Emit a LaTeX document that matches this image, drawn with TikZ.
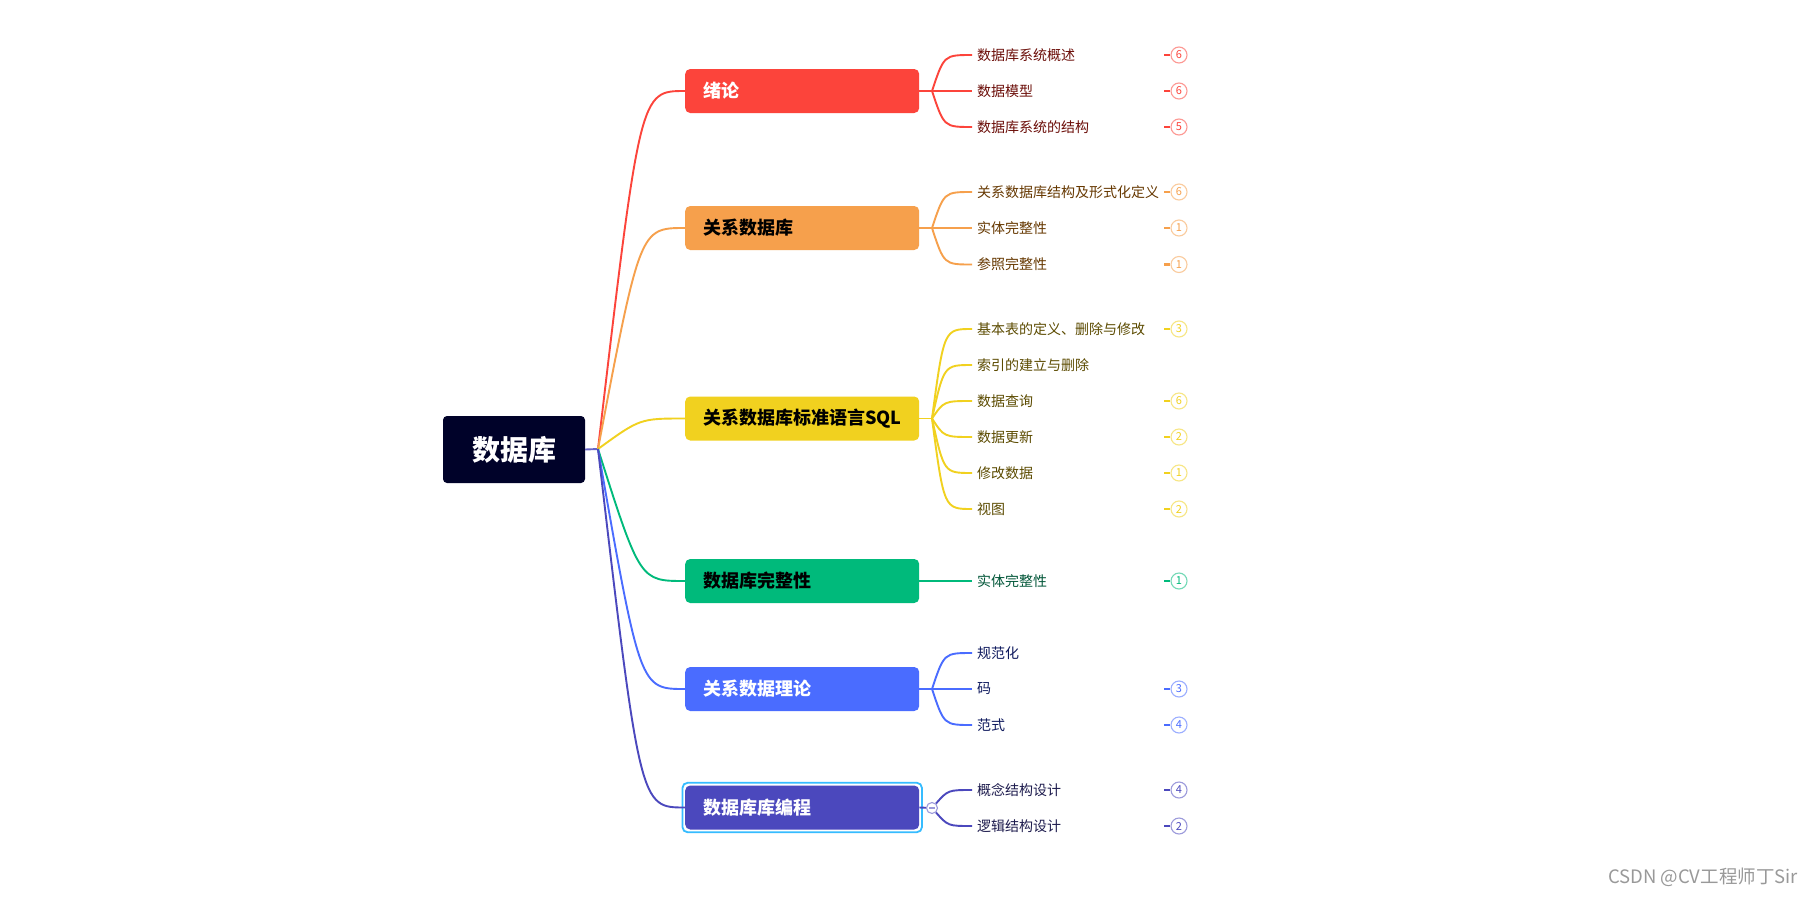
\documentclass[tikz,border=0pt]{standalone}
\usepackage{fontspec}
\setmainfont{Noto Sans CJK SC}
\usepackage{xcolor}
\usepackage{tikz}
\usetikzlibrary{calc,fit}
\definecolor{mmrootc}{HTML}{000229}
\definecolor{mmred}{HTML}{FC443B}
\definecolor{mmorange}{HTML}{F6A04C}
\definecolor{mmyellow}{HTML}{F1D11F}
\definecolor{mmgreen}{HTML}{00BA7B}
\definecolor{mmblue}{HTML}{4A6CFF}
\definecolor{mmpurple}{HTML}{4B48BD}
\definecolor{mmredtxt}{HTML}{6B0D08}
\definecolor{mmorangetxt}{HTML}{663800}
\definecolor{mmyellowtxt}{HTML}{5C4B00}
\definecolor{mmgreentxt}{HTML}{005638}
\definecolor{mmbluetxt}{HTML}{0F1A5E}
\definecolor{mmpurpletxt}{HTML}{1E1C4E}
\definecolor{mmselectc}{HTML}{36BCFF}
\tikzset{
mmroot/.style={rectangle,rounded corners=4pt,fill=mmrootc,text=white,minimum width=142pt,minimum height=67pt,inner sep=0pt,font=\fontsize{28}{30}\selectfont\bfseries},
mmtopic/.style={rectangle,rounded corners=5pt,anchor=west,align=left,text width=198pt,inner xsep=18pt,inner ysep=0pt,minimum height=44pt,font=\fontsize{18}{20}\selectfont\bfseries},
mmsub/.style={anchor=west,inner xsep=5pt,inner ysep=1pt,font=\fontsize{14}{16}\selectfont},
mmbadge/.style={circle,draw=#1!55,line width=1.1pt,text=#1,inner sep=0pt,minimum size=16pt,font=\fontsize{11}{11}\selectfont},
mmtick/.style={line width=2.4pt},
mmline/.style={line width=1.9pt},
mmcollapse/.style={circle,draw=mmpurple!55,fill=white,line width=1.1pt,inner sep=0pt,minimum size=11pt,
  path picture={\draw[mmpurple!55,line width=1.1pt] ([xshift=-3pt]path picture bounding box.center)--([xshift=3pt]path picture bounding box.center);}},
mmselect/.style={rectangle,rounded corners=5pt,draw=mmselectc,line width=1.8pt,inner sep=2.5pt},
mmmark/.style={font=\fontsize{18.5}{20}\selectfont,text=black!40,anchor=east,inner sep=0pt}
}
\begin{document}
\begin{tikzpicture}[x=1pt,y=-1pt]
\useasboundingbox[fill=white] (0,0) rectangle (1815,905);
% root and main topics
\node[mmroot] (root) at (514,449.5) {数据库};
\coordinate (hub) at (598,449);
\node[mmtopic,fill=mmred,text=white] (t1) at (685,91) {绪论};
\node[mmtopic,fill=mmorange,text=black] (t2) at (685,228) {关系数据库};
\node[mmtopic,fill=mmyellow,text=black] (t3) at (685,418.5) {关系数据库标准语言SQL};
\node[mmtopic,fill=mmgreen,text=black] (t4) at (685,581) {数据库完整性};
\node[mmtopic,fill=mmblue,text=white] (t5) at (685,689) {关系数据理论};
\node[mmtopic,fill=mmpurple,text=white] (t6) at (685,807.5) {数据库库编程};
\node[mmselect,fit=(t6)] (t6sel) {};
% split points
\coordinate (s1) at (932,91);
\coordinate (s2) at (932,228);
\coordinate (s3) at (932,418.5);
\coordinate (s4) at (932,581);
\coordinate (s5) at (932,689);
\node[mmcollapse] (s6) at (932,808) {};
% sub topics
\node[mmsub,text=mmredtxt] (c11) at (972,55) {数据库系统概述};
\node[mmsub,text=mmredtxt] (c12) at (972,91) {数据模型};
\node[mmsub,text=mmredtxt] (c13) at (972,127) {数据库系统的结构};
\node[mmsub,text=mmorangetxt] (c21) at (972,192) {关系数据库结构及形式化定义};
\node[mmsub,text=mmorangetxt] (c22) at (972,228) {实体完整性};
\node[mmsub,text=mmorangetxt] (c23) at (972,264.5) {参照完整性};
\node[mmsub,text=mmyellowtxt] (c31) at (972,329) {基本表的定义、删除与修改};
\node[mmsub,text=mmyellowtxt] (c32) at (972,365) {索引的建立与删除};
\node[mmsub,text=mmyellowtxt] (c33) at (972,401) {数据查询};
\node[mmsub,text=mmyellowtxt] (c34) at (972,437) {数据更新};
\node[mmsub,text=mmyellowtxt] (c35) at (972,473) {修改数据};
\node[mmsub,text=mmyellowtxt] (c36) at (972,509) {视图};
\node[mmsub,text=mmgreentxt] (c41) at (972,581) {实体完整性};
\node[mmsub,text=mmbluetxt] (c51) at (972,653) {规范化};
\node[mmsub,text=mmbluetxt] (c52) at (972,689) {码};
\node[mmsub,text=mmbluetxt] (c53) at (972,725) {范式};
\node[mmsub,text=mmpurpletxt] (c61) at (972,790) {概念结构设计};
\node[mmsub,text=mmpurpletxt] (c62) at (972,826) {逻辑结构设计};
% badges
\node[mmbadge=mmred] (b11) at (1179,55) {6};
\node[mmbadge=mmred] (b12) at (1179,91) {6};
\node[mmbadge=mmred] (b13) at (1179,127) {5};
\node[mmbadge=mmorange] (b21) at (1179,192) {6};
\node[mmbadge=mmorange] (b22) at (1179,228) {1};
\node[mmbadge=mmorange] (b23) at (1179,264.5) {1};
\node[mmbadge=mmyellow] (b31) at (1179,329) {3};
\node[mmbadge=mmyellow] (b33) at (1179,401) {6};
\node[mmbadge=mmyellow] (b34) at (1179,437) {2};
\node[mmbadge=mmyellow] (b35) at (1179,473) {1};
\node[mmbadge=mmyellow] (b36) at (1179,509) {2};
\node[mmbadge=mmgreen] (b41) at (1179,581) {1};
\node[mmbadge=mmblue] (b52) at (1179,689) {3};
\node[mmbadge=mmblue] (b53) at (1179,725) {4};
\node[mmbadge=mmpurple] (b61) at (1179,790) {4};
\node[mmbadge=mmpurple] (b62) at (1179,826) {2};
\node[mmmark] (mark) at (1798,877) {CSDN @CV工程师丁Sir};
% root branches
\draw[mmline,mmpurple!85] (root.east)--(hub);
\draw[mmline,mmred] (hub) .. controls ($(t1.west)+(-45,0)$) .. (t1.west);
\draw[mmline,mmorange] (hub) .. controls ($(t2.west)+(-45,0)$) .. (t2.west);
\draw[mmline,mmyellow] (hub) .. controls ($(t3.west)+(-45,0)$) .. (t3.west);
\draw[mmline,mmgreen] (hub) .. controls ($(t4.west)+(-45,0)$) .. (t4.west);
\draw[mmline,mmblue] (hub) .. controls ($(t5.west)+(-45,0)$) .. (t5.west);
\draw[mmline,mmpurple] (hub) .. controls ($(t6.west)+(-45,0)$) .. (t6.west);
% topic to split
\draw[mmline,mmred] (t1.east)--(s1);
\draw[mmline,mmorange] (t2.east)--(s2);
\draw[mmline,mmyellow] (t3.east)--(s3);
\draw[mmline,mmgreen] (t4.east)--(s4);
\draw[mmline,mmblue] (t5.east)--(s5);
\draw[mmline,mmpurple] (t6.east)--(s6);
% sub branches
\draw[mmline,mmred] (s1) .. controls ($(c11.west)+(-28,0)$) .. (c11.west);
\draw[mmline,mmred] (s1)--(c12.west);
\draw[mmline,mmred] (s1) .. controls ($(c13.west)+(-28,0)$) .. (c13.west);
\draw[mmline,mmorange] (s2) .. controls ($(c21.west)+(-28,0)$) .. (c21.west);
\draw[mmline,mmorange] (s2)--(c22.west);
\draw[mmline,mmorange] (s2) .. controls ($(c23.west)+(-28,0)$) .. (c23.west);
\draw[mmline,mmyellow] (s3) .. controls ($(c31.west)+(-28,0)$) .. (c31.west);
\draw[mmline,mmyellow] (s3) .. controls ($(c32.west)+(-28,0)$) .. (c32.west);
\draw[mmline,mmyellow] (s3) .. controls ($(c33.west)+(-28,0)$) .. (c33.west);
\draw[mmline,mmyellow] (s3) .. controls ($(c34.west)+(-28,0)$) .. (c34.west);
\draw[mmline,mmyellow] (s3) .. controls ($(c35.west)+(-28,0)$) .. (c35.west);
\draw[mmline,mmyellow] (s3) .. controls ($(c36.west)+(-28,0)$) .. (c36.west);
\draw[mmline,mmgreen] (s4)--(c41.west);
\draw[mmline,mmblue] (s5) .. controls ($(c51.west)+(-28,0)$) .. (c51.west);
\draw[mmline,mmblue] (s5)--(c52.west);
\draw[mmline,mmblue] (s5) .. controls ($(c53.west)+(-28,0)$) .. (c53.west);
\draw[mmline,mmpurple] (s6) .. controls ($(c61.west)+(-24,0)$) .. (c61.west);
\draw[mmline,mmpurple] (s6) .. controls ($(c62.west)+(-24,0)$) .. (c62.west);
% badge ticks
\draw[mmtick,mmred] (b11.west)--([xshift=-6pt]b11.west);
\draw[mmtick,mmred] (b12.west)--([xshift=-6pt]b12.west);
\draw[mmtick,mmred] (b13.west)--([xshift=-6pt]b13.west);
\draw[mmtick,mmorange] (b21.west)--([xshift=-6pt]b21.west);
\draw[mmtick,mmorange] (b22.west)--([xshift=-6pt]b22.west);
\draw[mmtick,mmorange] (b23.west)--([xshift=-6pt]b23.west);
\draw[mmtick,mmyellow] (b31.west)--([xshift=-6pt]b31.west);
\draw[mmtick,mmyellow] (b33.west)--([xshift=-6pt]b33.west);
\draw[mmtick,mmyellow] (b34.west)--([xshift=-6pt]b34.west);
\draw[mmtick,mmyellow] (b35.west)--([xshift=-6pt]b35.west);
\draw[mmtick,mmyellow] (b36.west)--([xshift=-6pt]b36.west);
\draw[mmtick,mmgreen] (b41.west)--([xshift=-6pt]b41.west);
\draw[mmtick,mmblue] (b52.west)--([xshift=-6pt]b52.west);
\draw[mmtick,mmblue] (b53.west)--([xshift=-6pt]b53.west);
\draw[mmtick,mmpurple] (b61.west)--([xshift=-6pt]b61.west);
\draw[mmtick,mmpurple] (b62.west)--([xshift=-6pt]b62.west);
\end{tikzpicture}
\end{document}
